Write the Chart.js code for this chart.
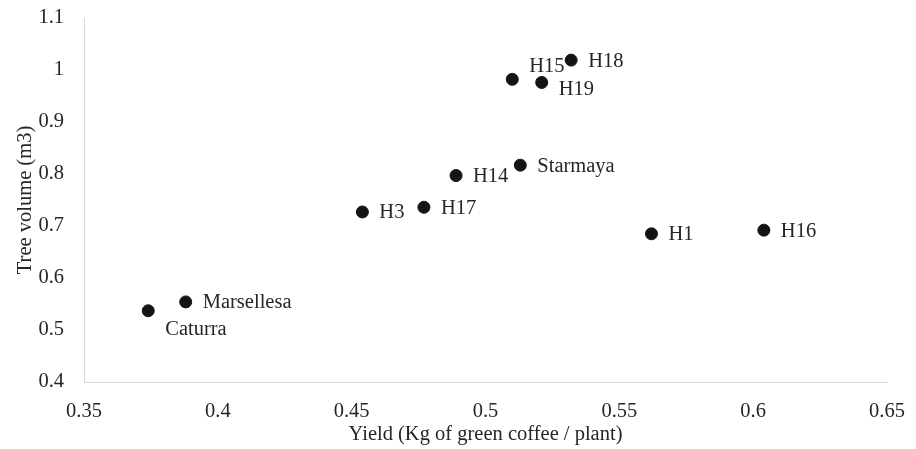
<!doctype html>
<html lang="en">
  <head>
    <meta charset="utf-8">
    <title>Yield vs tree volume</title>
    <style>
      html, body { margin: 0; padding: 0; background: #fff; }
      #wrap { width: 916px; height: 449px; }
    </style>
  </head>
  <body>
    <div id="wrap"><canvas id="yieldChart"></canvas></div>

    <script src="https://cdn.jsdelivr.net/npm/chart.js"></script>
    <script>
      // genotypes, yield (kg green coffee / plant) and tree volume (m3)
      const names = ['Caturra', 'Marsellesa', 'H3', 'H17', 'H14', 'Starmaya', 'H15', 'H19', 'H18', 'H1', 'H16'];
      const yieldKg = [0.374, 0.388, 0.454, 0.477, 0.489, 0.513, 0.510, 0.521, 0.532, 0.562, 0.604];
      const treeVolume = [0.537, 0.554, 0.727, 0.736, 0.797, 0.817, 0.982, 0.976, 1.019, 0.685, 0.692];

      // where each name sits next to its point
      const labelSide = ['below', 'right', 'right', 'right', 'right', 'right', 'above', 'low', 'right', 'right', 'right'];

      const xTicks = [0.35, 0.4, 0.45, 0.5, 0.55, 0.6, 0.65];
      const yTicks = [0.4, 0.5, 0.6, 0.7, 0.8, 0.9, 1, 1.1];

      const textColor = '#262626';
      const serif = "'Liberation Serif', 'Times New Roman', serif";
      const fontSize = 20.5;

      const points = yieldKg.map((x, i) => ({ x: x, y: treeVolume[i] }));

      // draws the genotype names beside the points
      const pointNames = {
        id: 'pointNames',
        afterDatasetsDraw(chart) {
          const ctx = chart.ctx;
          const meta = chart.getDatasetMeta(0);
          ctx.save();
          ctx.font = fontSize + 'px ' + serif;
          ctx.fillStyle = textColor;
          ctx.textAlign = 'left';
          ctx.textBaseline = 'middle';
          meta.data.forEach((pt, i) => {
            let dy = 1;
            if (labelSide[i] === 'below') dy = 19;
            if (labelSide[i] === 'above') dy = -13;
            if (labelSide[i] === 'low') dy = 7;
            ctx.fillText(names[i], pt.x + 17, pt.y + dy);
          });
          ctx.restore();
        }
      };

      function fmt(v) {
        return String(Number(v.toFixed(2)));
      }

      const chart = new Chart(document.getElementById('yieldChart'), {
        type: 'scatter',
        data: {
          datasets: [{
            data: points,
            backgroundColor: '#141414',
            borderColor: '#141414',
            pointRadius: 6,
            pointHoverRadius: 6
          }]
        },
        options: {
          responsive: true,
          maintainAspectRatio: false,
          animation: false,
          layout: { padding: { left: 0, right: 29, top: 18, bottom: 0 } },
          plugins: {
            legend: { display: false },
            tooltip: { enabled: false }
          },
          scales: {
            x: {
              type: 'linear',
              min: xTicks[0],
              max: xTicks[xTicks.length - 1],
              afterBuildTicks(axis) { axis.ticks = xTicks.map(v => ({ value: v })); },
              afterFit(axis) {
                axis.height = 67;
                axis.paddingLeft = 0;
                axis.paddingRight = 0;
              },
              grid: { display: false },
              border: { display: true, color: '#d9d9d9', width: 1 },
              ticks: {
                padding: 9,
                color: textColor,
                font: { family: serif, size: fontSize },
                callback: fmt
              },
              title: {
                display: true,
                text: 'Yield (Kg of green coffee / plant)',
                color: textColor,
                font: { family: serif, size: fontSize },
                padding: { top: 0, bottom: 2 }
              }
            },
            y: {
              type: 'linear',
              min: yTicks[0],
              max: yTicks[yTicks.length - 1],
              afterBuildTicks(axis) { axis.ticks = yTicks.map(v => ({ value: v })); },
              afterFit(axis) {
                axis.width = 84;
                axis.paddingTop = 0;
                axis.paddingBottom = 0;
              },
              grid: { display: false },
              border: { display: true, color: '#d9d9d9', width: 1 },
              ticks: {
                padding: 12,
                color: textColor,
                font: { family: serif, size: fontSize },
                callback: fmt
              },
              title: {
                display: true,
                text: 'Tree volume (m3)',
                color: textColor,
                font: { family: serif, size: fontSize },
                padding: { top: 13, bottom: 0 }
              }
            }
          }
        },
        plugins: [pointNames]
      });
    </script>
  </body>
</html>
